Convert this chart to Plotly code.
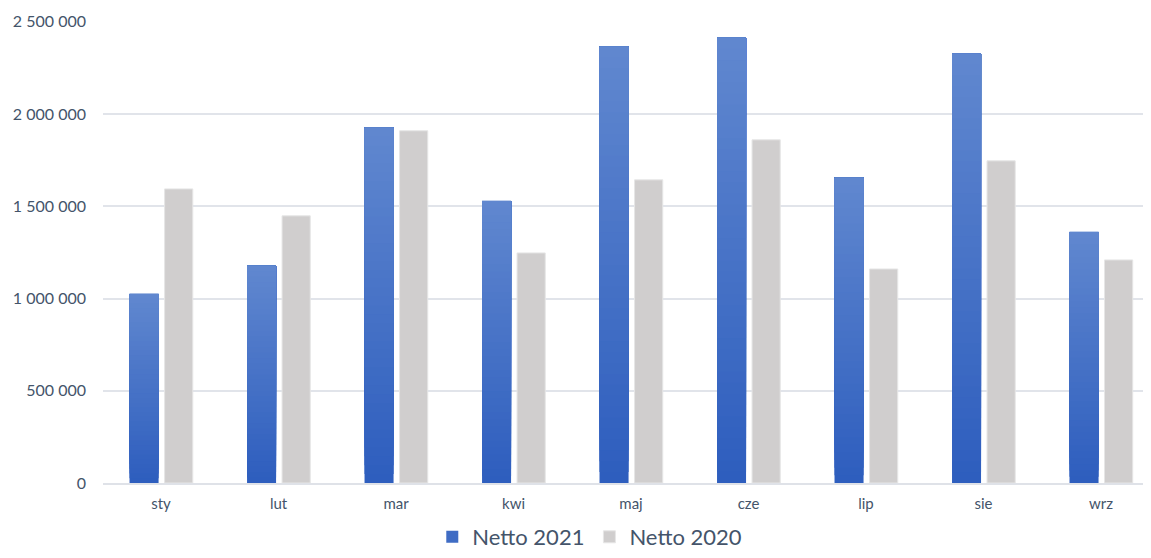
import plotly.graph_objects as go

# months (Jan - Sep) and net values for both years
months = ["sty", "lut", "mar", "kwi", "maj", "cze", "lip", "sie", "wrz"]
netto_2021 = [1025000, 1177000, 1925000, 1529000, 2364000, 2413000, 1654000, 2326000, 1361000]
netto_2020 = [1594000, 1448000, 1909000, 1247000, 1643000, 1860000, 1160000, 1746000, 1209000]

y_ticks = [0, 500000, 1000000, 1500000, 2000000, 2500000]
y_tick_labels = ["0", "500 000", "1 000 000", "1 500 000", "2 000 000", "2 500 000"]

FONT = "Lato, 'Noto Sans', sans-serif"

fig = go.Figure()

# blue bars get a vertical gradient: overlapping slices, each one from its base up to the bar top
n_slices = 40
top_rgb = (96, 135, 207)
bottom_rgb = (46, 94, 190)
for k in range(n_slices):
    t = k / (n_slices - 1)
    r = round(bottom_rgb[0] + (top_rgb[0] - bottom_rgb[0]) * t)
    g = round(bottom_rgb[1] + (top_rgb[1] - bottom_rgb[1]) * t)
    b = round(bottom_rgb[2] + (top_rgb[2] - bottom_rgb[2]) * t)
    fig.add_trace(go.Bar(
        x=months,
        y=[v * (1 - k / n_slices) for v in netto_2021],
        base=[v * k / n_slices for v in netto_2021],
        offset=-0.268,
        width=0.247,
        marker=dict(color=f"rgb({r},{g},{b})", line=dict(width=0)),
        name="Netto 2021",
        legendgroup="2021",
        showlegend=(k == n_slices // 3),
        hoverinfo="skip",
    ))

fig.add_trace(go.Bar(
    x=months,
    y=netto_2020,
    offset=0.03,
    width=0.24,
    marker=dict(color="#d0cece", line=dict(width=1, color="#e6e6e6")),
    name="Netto 2020",
    legendgroup="2020",
))

# page body has an 8px margin, so the figure is a bit smaller than the window
fig.update_layout(
    width=1143,
    height=550,
    barmode="overlay",
    plot_bgcolor="white",
    paper_bgcolor="white",
    margin=dict(l=95, r=1, t=13, b=75, autoexpand=False),
    font=dict(family=FONT, color="#44546a", size=15),
    showlegend=True,
    legend=dict(
        orientation="h",
        xref="container",
        yref="container",
        x=0.509,
        xanchor="center",
        y=0.0,
        yanchor="bottom",
        font=dict(size=22, color="#44546a"),
        itemwidth=30,
        traceorder="normal",
    ),
)

fig.update_xaxes(
    range=[-0.494, 8.417],
    automargin=False,
    showgrid=False,
    showline=True,
    linecolor="#dfe2e8",
    linewidth=2,
    ticks="",
    ticklabelstandoff=6,
    tickfont=dict(size=15, color="#44546a"),
)

fig.update_yaxes(
    range=[0, 2504000],
    automargin=False,
    tickvals=y_ticks,
    ticktext=y_tick_labels,
    showgrid=True,
    gridcolor="#e1e4ea",
    gridwidth=2,
    zeroline=False,
    ticks="",
    ticklabelstandoff=16,
    tickfont=dict(size=16, color="#44546a"),
)

fig.write_html("out.html")
